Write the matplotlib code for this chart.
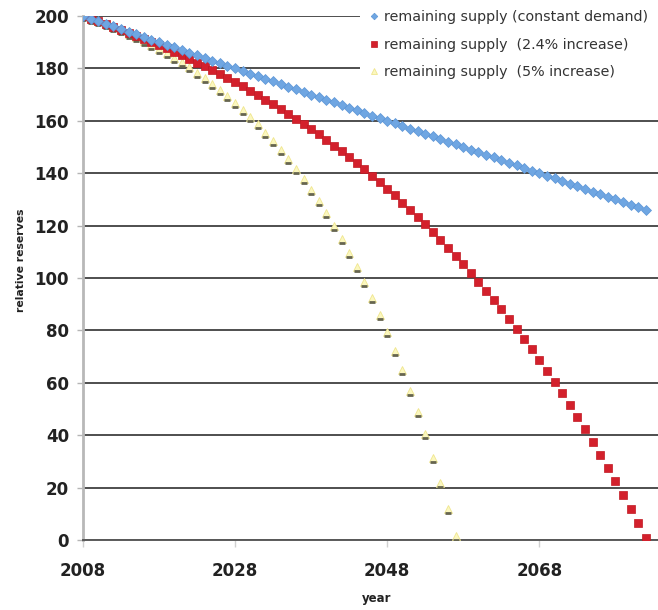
import matplotlib
matplotlib.use("Agg")
import matplotlib.pyplot as plt
from matplotlib.transforms import offset_copy

# values, one point per year from 2008
START_YEAR = 2008
constant_demand = [200, 199, 198, 197, 196, 195, 194, 193, 192, 191,
                   190, 189, 188, 187, 186, 185, 184, 183, 182, 181,
                   180, 179, 178, 177, 176, 175, 174, 173, 172, 171,
                   170, 169, 168, 167, 166, 165, 164, 163, 162, 161,
                   160, 159, 158, 157, 156, 155, 154, 153, 152, 151,
                   150, 149, 148, 147, 146, 145, 144, 143, 142, 141,
                   140, 139, 138, 137, 136, 135, 134, 133, 132, 131,
                   130, 129, 128, 127, 126]
increase_2_4 = [200.0, 199.0, 198.0, 196.9, 195.9, 194.8, 193.6, 192.5, 191.3, 190.1,
                188.8, 187.6, 186.3, 185.0, 183.6, 182.2, 180.8, 179.3, 177.8, 176.3,
                174.7, 173.1, 171.5, 169.8, 168.0, 166.3, 164.5, 162.6, 160.7, 158.8,
                156.8, 154.8, 152.7, 150.5, 148.3, 146.1, 143.8, 141.5, 139.1, 136.6,
                134.1, 131.5, 128.8, 126.1, 123.4, 120.5, 117.6, 114.6, 111.6, 108.5,
                105.3, 102.0, 98.6, 95.2, 91.7, 88.1, 84.4, 80.6, 76.8, 72.8,
                68.8, 64.6, 60.4, 56.0, 51.6, 47.0, 42.3, 37.5, 32.6, 27.6,
                22.5, 17.2, 11.8, 6.3, 0.7]
increase_5 = [200.0, 199.0, 198.0, 196.8, 195.7, 194.5, 193.2, 191.9, 190.5, 189.0,
              187.4, 185.8, 184.1, 182.3, 180.4, 178.4, 176.3, 174.2, 171.9, 169.5,
              166.9, 164.3, 161.5, 158.6, 155.5, 152.3, 148.9, 145.3, 141.6, 137.7,
              133.6, 129.2, 124.7, 119.9, 114.9, 109.7, 104.2, 98.4, 92.3, 85.9,
              79.2, 72.2, 64.8, 57.0, 48.9, 40.3, 31.3, 21.9, 12.0, 1.6]
labels = ["remaining supply (constant demand)",
          "remaining supply  (2.4% increase)",
          "remaining supply  (5% increase)"]
y_ticks = [0, 20, 40, 60, 80, 100, 120, 140, 160, 180, 200]
x_ticks = [2008, 2028, 2048, 2068]


def years_for(vals):
    return [START_YEAR + i for i in range(len(vals))]


fig = plt.figure(figsize=(6.58, 6.10), dpi=100)
ax = fig.add_axes([0.126, 0.1148, 0.874, 0.859])

ax.plot(years_for(constant_demand), constant_demand, ls="none", marker="D", ms=4.8,
        mfc="#6fa6e2", mec="#5b95d6", mew=0.5, label=labels[0], zorder=5)
ax.plot(years_for(increase_2_4), increase_2_4, ls="none", marker="s", ms=5.2,
        mfc="#d3202c", mec="#c01822", mew=0.5, label=labels[1], zorder=4)
ax.plot(years_for(increase_5), increase_5, ls="none", marker="^", ms=5.5,
        mfc="#fbf7bf", mec="#efe68e", mew=0.6, label=labels[2], zorder=3.5)
# dark "shadow" dash at the base of each yellow triangle
shadow = offset_copy(ax.transData, fig=fig, x=0, y=-4, units="dots")
ax.plot(years_for(increase_5), increase_5, ls="none", marker="_", ms=5, mew=2.0,
        color="#66654f", transform=shadow, zorder=3.6)

ax.set_xlim(2008, 2083.6)
ax.set_ylim(0, 200)
ax.set_yticks(y_ticks)
ax.set_xticks(x_ticks)
ax.tick_params(axis="y", length=4, width=1, color="#b5b5b5", pad=6, labelsize=12)
ax.tick_params(axis="x", length=5, width=1, color="#d0d0d0", pad=11, labelsize=12)
for t in ax.get_xticklabels() + ax.get_yticklabels():
    t.set_fontweight("bold"); t.set_color("#222222")

ax.grid(axis="y", color="#4e4e4e", lw=1.4)
ax.set_axisbelow(True)
for s in ("top", "right"):
    ax.spines[s].set_visible(False)
ax.spines["left"].set_color("#b8b8b8"); ax.spines["left"].set_linewidth(2)
ax.spines["bottom"].set_color("#5a5a5a"); ax.spines["bottom"].set_linewidth(1.4)

ax.set_xlabel("year", fontsize=8.5, fontweight="bold", color="#222222")
ax.xaxis.set_label_coords(0.51, -0.099)
ax.set_ylabel("relative reserves", fontsize=7.8, fontweight="bold", color="#222222")
ax.yaxis.set_label_coords(-0.099, 0.534)

leg = ax.legend(loc="upper right", bbox_to_anchor=(1.0, 1.03), fontsize=10.3,
                frameon=True, fancybox=False, edgecolor="none", facecolor="white",
                framealpha=1, borderaxespad=0, borderpad=0.7, labelspacing=0.95,
                handlelength=0.5, handletextpad=0.45, markerscale=0.7)
for t in leg.get_texts():
    t.set_color("#333333")
leg.set_zorder(10)

fig.savefig("out.png", dpi=100)
